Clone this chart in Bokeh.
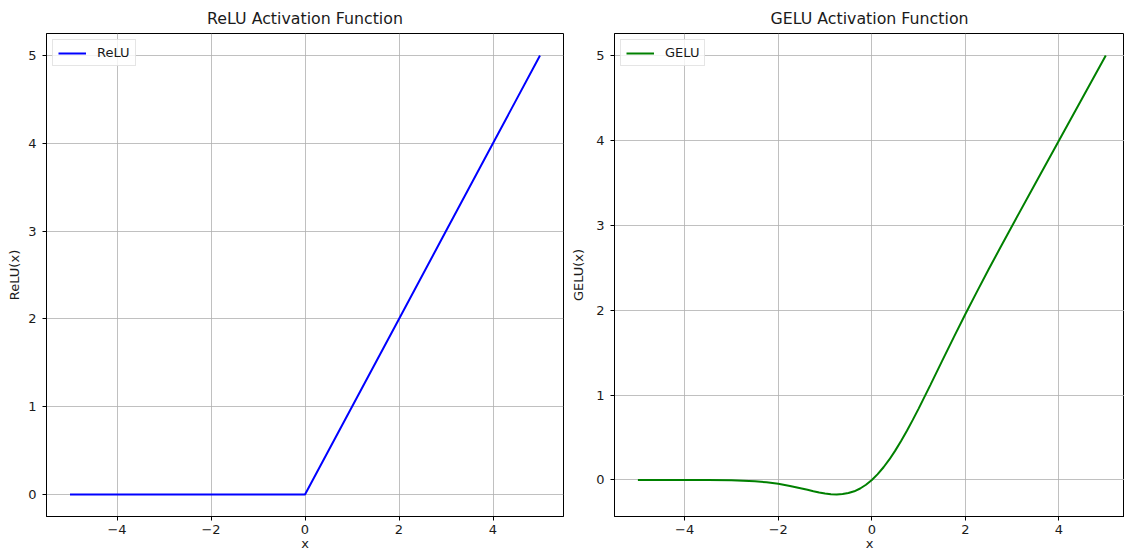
from bokeh.plotting import figure
from bokeh.layouts import row
from bokeh.models import Range1d, FixedTicker
from bokeh.embed import file_html
from bokeh.resources import INLINE

# ---- data ----
relu_x = [-5, -4, -3, -2, -1, 0, 1, 2, 3, 4, 5]
relu_y = [0, 0, 0, 0, 0, 0, 1, 2, 3, 4, 5]

gelu_x = [-5, -4.5, -4, -3.5, -3, -2.75, -2.5, -2.25, -2, -1.75, -1.5, -1.375,
          -1.25, -1.125, -1, -0.875, -0.75, -0.625, -0.5, -0.375, -0.25, -0.125,
          0, 0.125, 0.25, 0.375, 0.5, 0.625, 0.75, 0.875, 1, 1.25, 1.5, 1.75,
          2, 2.25, 2.5, 2.75, 3, 3.5, 4, 4.5, 5]
gelu_y = [0.0, 0.0, -0.0001, -0.0008, -0.004, -0.008, -0.016, -0.027, -0.045,
          -0.070, -0.100, -0.116, -0.132, -0.147, -0.159, -0.167, -0.170, -0.166,
          -0.154, -0.133, -0.100, -0.056, 0.0, 0.069, 0.150, 0.242, 0.346, 0.459,
          0.580, 0.708, 0.841, 1.118, 1.400, 1.680, 1.955, 2.222, 2.485, 2.742,
          2.996, 3.499, 4.0, 4.5, 5.0]

x_ticks = [-4, -2, 0, 2, 4]
x_tick_labels = ["\u22124", "\u22122", "0", "2", "4"]
y_ticks = [0, 1, 2, 3, 4, 5]

FONT = "DejaVu Sans"
TXT = "#1a1a1a"


def make(title, ylabel, xs, ys, color, name, x_end, y_rng, width, ylab_standoff, rb):
    p = figure(width=width, height=553, title=title,
               x_range=Range1d(-5.5, x_end), y_range=Range1d(*y_rng),
               output_backend="svg", toolbar_location=None,
               min_border_left=46, min_border_right=rb,
               min_border_top=33, min_border_bottom=37)
    p.line(xs, ys, line_color=color, line_width=2, legend_label=name)

    p.title.text_font = FONT
    p.title.text_font_size = "15.8px"
    p.title.text_font_style = "normal"
    p.title.text_color = TXT
    p.title.align = "center"
    p.title.standoff = 12

    p.outline_line_color = "black"
    p.outline_line_width = 1
    p.outline_line_alpha = 1
    p.background_fill_color = "white"
    p.border_fill_color = "white"

    p.xaxis.ticker = FixedTicker(ticks=x_ticks)
    p.xaxis.major_label_overrides = dict(zip(x_ticks, x_tick_labels))
    p.yaxis.ticker = FixedTicker(ticks=y_ticks)
    p.xaxis.axis_label = "x"
    p.yaxis.axis_label = ylabel

    for ax in (p.xaxis[0], p.yaxis[0]):
        ax.axis_line_color = "black"
        ax.major_tick_line_color = "black"
        ax.major_tick_out = 4
        ax.major_tick_in = 0
        ax.minor_tick_line_color = None
        ax.major_label_text_font = FONT
        ax.major_label_text_font_size = "13px"
        ax.major_label_text_color = TXT
        ax.axis_label_text_font = FONT
        ax.axis_label_text_font_size = "13px"
        ax.axis_label_text_font_style = "normal"
        ax.axis_label_text_color = TXT
    p.xaxis.major_label_standoff = 4
    p.xaxis.axis_label_standoff = -1
    p.yaxis.major_label_standoff = 6
    p.yaxis.axis_label_standoff = ylab_standoff

    p.grid.grid_line_color = "#b0b0b0"
    p.grid.grid_line_width = 0.8

    lg = p.legend[0]
    lg.location = "top_left"
    lg.margin = 6
    lg.padding = 5
    lg.spacing = 0
    lg.glyph_width = 28
    lg.glyph_height = 14
    lg.label_height = 14
    lg.label_standoff = 11
    lg.label_text_font = FONT
    lg.label_text_font_size = "13px"
    lg.label_text_color = TXT
    lg.border_line_color = "#cccccc"
    lg.border_line_width = 1
    lg.background_fill_alpha = 0.8
    return p


p1 = make("ReLU Activation Function", "ReLU(x)", relu_x, relu_y, "blue", "ReLU",
          5.5, (-0.25, 5.25), 568, 3, 5)
p2 = make("GELU Activation Function", "GELU(x)", gelu_x, gelu_y, "green", "GELU",
          5.40, (-0.43, 5.26), 556, 7, 0)

layout = row(p1, p2)
open("out.html", "w").write(file_html(layout, INLINE))
